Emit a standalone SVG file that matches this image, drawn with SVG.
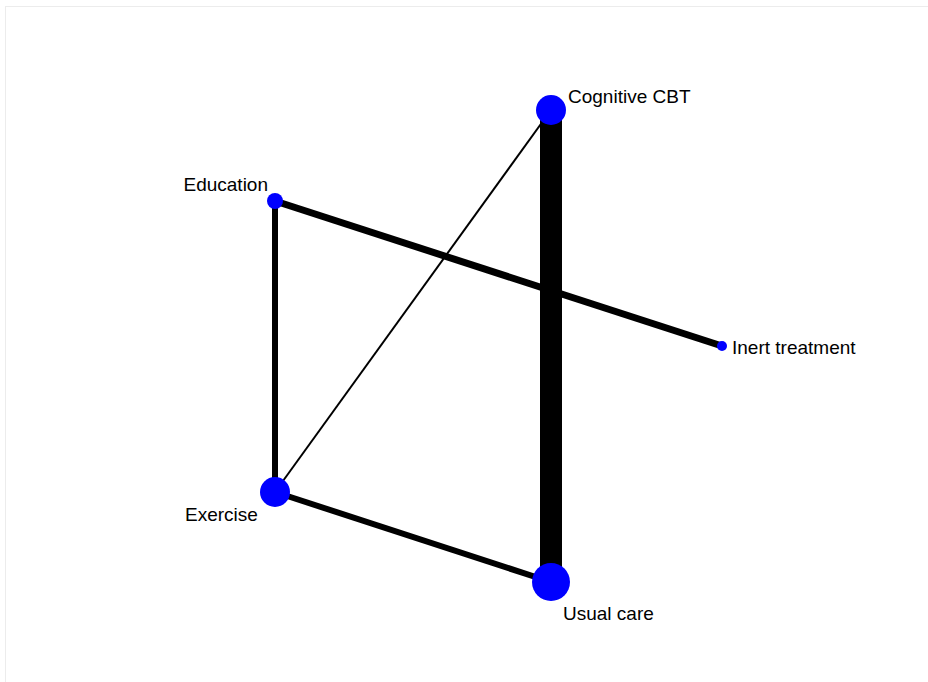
<svg xmlns="http://www.w3.org/2000/svg" width="928" height="682" viewBox="0 0 928 682">
<style>
.edge{stroke:#000;stroke-linecap:butt;fill:none}
.node{fill:#0000ff}
.lbl{font-family:"Liberation Sans",Arial,sans-serif;font-size:19px;fill:#000}
</style>
<rect x="0" y="0" width="928" height="682" fill="#fff"/>
<rect x="5.5" y="6.5" width="940" height="700" fill="none" stroke="#ececec" stroke-width="1"/>
<g id="connectors">
<line class="edge" x1="551" y1="110" x2="551" y2="582" stroke-width="22"/>
<line class="edge" x1="275" y1="201" x2="722" y2="346" stroke-width="7"/>
<line class="edge" x1="275" y1="201" x2="275" y2="492" stroke-width="6"/>
<line class="edge" x1="275" y1="492" x2="551" y2="582" stroke-width="6"/>
<line class="edge" x1="551" y1="110" x2="275" y2="492" stroke-width="2"/>
</g>
<g id="node-cbt"><circle class="node" cx="551" cy="110" r="15"/><text class="lbl" x="568" y="103">Cognitive CBT</text></g>
<g id="node-education"><circle class="node" cx="275" cy="201" r="8"/><text class="lbl" x="268" y="191" text-anchor="end">Education</text></g>
<g id="node-inert"><circle class="node" cx="722" cy="346" r="5"/><text class="lbl" x="732" y="354">Inert treatment</text></g>
<g id="node-exercise"><circle class="node" cx="275" cy="492" r="15"/><text class="lbl" x="185" y="521">Exercise</text></g>
<g id="node-usualcare"><circle class="node" cx="551" cy="582" r="19"/><text class="lbl" x="563" y="620">Usual care</text></g>
</svg>
